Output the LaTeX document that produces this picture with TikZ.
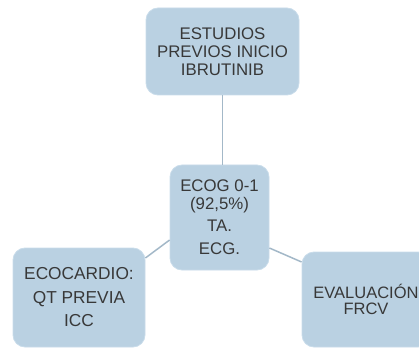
\documentclass[tikz,border=0pt]{standalone}
\usepackage{fontspec}
\setmainfont{Liberation Sans}
\definecolor{boxfill}{HTML}{BAD1E2}
\definecolor{boxedge}{HTML}{C9DCEA}
\definecolor{linkcol}{HTML}{A3B8C8}
\definecolor{txt}{HTML}{383838}
\begin{document}
\begin{tikzpicture}[x=1pt,y=1pt,
  card/.style={draw=boxedge, line width=0.8pt, fill=boxfill, rounded corners=12pt,
    inner sep=0pt, align=center, text=txt, font=\fontsize{16.8}{18}\selectfont},
  link/.style={draw=linkcol, line width=1.5pt}]
\useasboundingbox (0,0) rectangle (419,348);
\node[card, minimum width=153pt, minimum height=87pt] (t) at (222.5,296.5)
  {ESTUDIOS\\PREVIOS INICIO\\IBRUTINIB};
\node[card, minimum width=99pt, minimum height=105pt] (c) at (219.5,130.5)
  {ECOG 0-1\\(92,5\%)\\[4pt]TA.\\[5pt]ECG.};
\node[card, minimum width=132pt, minimum height=99pt, font=\fontsize{17.3}{18}\selectfont] (l) at (79,50.5)
  {ECOCARDIO:\\[6pt]QT PREVIA\\[5pt]ICC};
\node[card, minimum width=128pt, minimum height=95pt, font=\fontsize{16.5}{15.5}\selectfont] (r) at (366,48.5)
  {EVALUACIÓN\\FRCV};
\draw[link] (t.south) -- (t.south |- c.north);
\draw[link] ([yshift=-22.5pt]c.west) -- ([yshift=39.5pt]l.east);
\draw[link] ([yshift=-30.5pt]c.east) -- ([yshift=37.5pt]r.west);
\end{tikzpicture}
\end{document}
